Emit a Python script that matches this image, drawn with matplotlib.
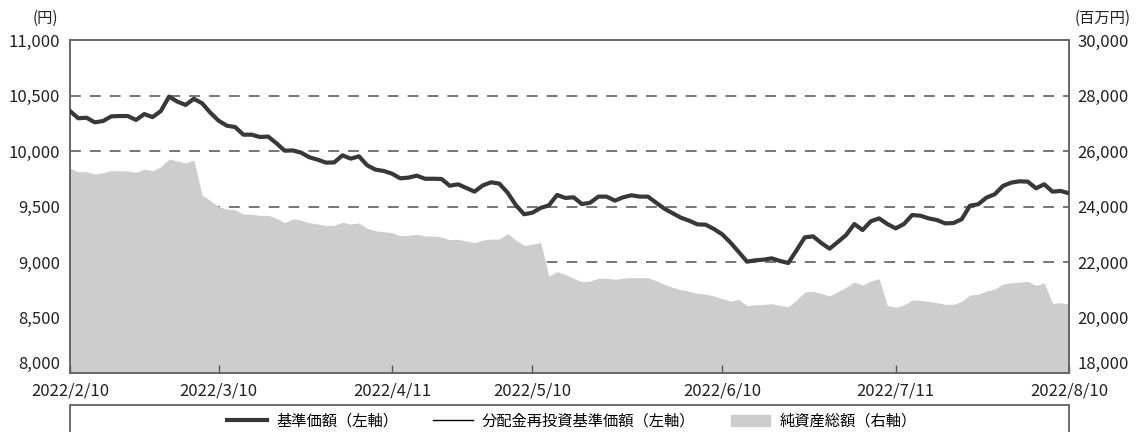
import numpy as np
import pandas as pd
import matplotlib
matplotlib.use('Agg')
from matplotlib import pyplot as plt
from matplotlib.lines import Line2D
from matplotlib.patches import Patch, Rectangle

plt.rcParams['font.family'] = ['Noto Sans CJK JP', 'DejaVu Sans']

# business days (Japan) from 2022/2/10 to 2022/8/10
holidays = ['2022-02-11', '2022-02-23', '2022-03-21', '2022-04-29',
            '2022-05-03', '2022-05-04', '2022-05-05', '2022-07-18']
dates = pd.bdate_range('2022-02-10', '2022-08-10', freq='C', holidays=holidays)

tick_dates = ['2022-02-10', '2022-03-10', '2022-04-11', '2022-05-10',
              '2022-06-10', '2022-07-11', '2022-08-10']
tick_labels = ['2022/2/10', '2022/3/10', '2022/4/11', '2022/5/10',
               '2022/6/10', '2022/7/11', '2022/8/10']

# 基準価額 (円)
nav = [10360, 10295, 10300, 10258, 10270, 10312, 10315, 10315, 10280, 10333,
       10305, 10360, 10490, 10445, 10415, 10470, 10430, 10345, 10273, 10228,
       10216, 10147, 10147, 10126, 10130, 10070, 10003, 10005, 9985, 9943,
       9922, 9895, 9897, 9961, 9931, 9952, 9871, 9832, 9820, 9796,
       9754, 9760, 9778, 9750, 9750, 9748, 9687, 9700, 9667, 9634,
       9690, 9718, 9706, 9625, 9513, 9430, 9444, 9487, 9510, 9604,
       9577, 9583, 9522, 9534, 9589, 9589, 9553, 9583, 9601, 9589,
       9589, 9534, 9480, 9439, 9399, 9372, 9339, 9336, 9297, 9249,
       9175, 9090, 9003, 9015, 9021, 9033, 9009, 8991, 9105, 9222,
       9231, 9171, 9120, 9180, 9243, 9342, 9288, 9367, 9393, 9342,
       9303, 9342, 9423, 9417, 9393, 9378, 9348, 9351, 9385, 9507,
       9520, 9580, 9610, 9685, 9715, 9727, 9724, 9664, 9700, 9634,
       9640, 9619]

# 分配金再投資基準価額 (円) - no distributions in the period, same as nav
nav_reinvest = list(nav)

# 純資産総額 (百万円)
net_assets = [25376, 25254, 25254, 25170, 25218, 25290, 25290, 25280, 25232, 25350,
              25290, 25434, 25711, 25640, 25567, 25675, 24414, 24210, 23992, 23910,
              23880, 23729, 23717, 23681, 23681, 23574, 23416, 23560, 23502, 23416,
              23369, 23321, 23321, 23430, 23369, 23405, 23213, 23127, 23091, 23055,
              22950, 22960, 22996, 22936, 22936, 22900, 22804, 22816, 22756, 22696,
              22792, 22828, 22828, 23020, 22792, 22600, 22636, 22708, 21495, 21650,
              21550, 21412, 21290, 21314, 21412, 21412, 21376, 21423, 21435, 21435,
              21435, 21325, 21195, 21087, 21002, 20943, 20871, 20846, 20774, 20678,
              20590, 20654, 20424, 20460, 20472, 20496, 20436, 20388, 20630, 20918,
              20943, 20871, 20774, 20930, 21087, 21278, 21170, 21314, 21398, 20436,
              20370, 20449, 20630, 20618, 20582, 20533, 20475, 20475, 20582, 20810,
              20834, 20954, 21026, 21206, 21254, 21278, 21302, 21158, 21242, 20510,
              20534, 20486]

left_ticks = [8000, 8500, 9000, 9500, 10000, 10500, 11000]
right_ticks = [18000, 20000, 22000, 24000, 26000, 28000, 30000]

x = np.arange(len(dates))
tick_pos = [dates.get_loc(pd.Timestamp(d)) for d in tick_dates]

fig = plt.figure(figsize=(11.37, 4.32), dpi=100)
ax = fig.add_axes([70/1137, 1-373/432, 999/1137, 333/432])
ax2 = ax.twinx()

# area + grid on the right axis, lines on top
ax2.set_zorder(0)
ax.set_zorder(1)
ax.patch.set_visible(False)

ax2.fill_between(x, 18000, net_assets, color='#cdcdcd', lw=0, zorder=2)
ax2.set_ylim(18000, 30000)
ax2.set_yticks(right_ticks)
ax2.set_yticklabels([f'{v:,}' for v in right_ticks])
for v in right_ticks[1:-1]:
    ax2.axhline(v, color='#6a6a6a', lw=1.3, ls=(0, (6, 5)), zorder=1)

ax.plot(x, nav_reinvest, color='black', lw=1.0, zorder=3)
ax.plot(x, nav, color='#383838', lw=3.0, zorder=4, solid_joinstyle='round')
ax.set_ylim(8000, 11000)
ax.set_yticks(left_ticks)
ax.set_yticklabels([f'{v:,}' for v in left_ticks])
ax.set_xlim(0, len(dates) - 1)
ax.set_xticks(tick_pos)
ax.set_xticklabels(tick_labels)

ax.tick_params(axis='y', length=0, pad=7, labelsize=12, colors='#222222')
ax2.tick_params(axis='y', length=0, pad=6, labelsize=12, colors='#222222')
ax.tick_params(axis='x', direction='in', length=6, width=1, color='#555555',
               pad=7, labelsize=12, labelcolor='#222222')

# lowest labels sit just above the bottom axis
ax.get_yticklabels()[0].set_va('bottom')
ax2.get_yticklabels()[0].set_va('bottom')

for a in (ax, ax2):
    for s in a.spines.values():
        s.set_color('#666666')
        s.set_linewidth(1.2)

fig.text(33/1137, 1-18/432, '(円)', fontsize=11, va='center', ha='left', color='#222222')
fig.text(1131/1137, 1-18/432, '(百万円)', fontsize=11, va='center', ha='right', color='#222222')

# legend box (cut by the bottom of the image)
fig.patches.append(Rectangle((70/1137, -0.1), 999/1137, 0.1 + 1 - 405/432,
                             transform=fig.transFigure, fill=False,
                             ec='#555555', lw=1.2))
handles = [Line2D([], [], color='#383838', lw=3.0),
           Line2D([], [], color='black', lw=1.0),
           Patch(color='#cdcdcd')]
labels = ['基準価額（左軸）', '分配金再投資基準価額（左軸）', '純資産総額（右軸）']
fig.legend(handles, labels, loc='center', bbox_to_anchor=(572/1137, 1-421/432),
           ncol=3, frameon=False, fontsize=11, handlelength=2.6,
           handletextpad=0.6, columnspacing=2.3)

fig.savefig('out.png', dpi=100)
